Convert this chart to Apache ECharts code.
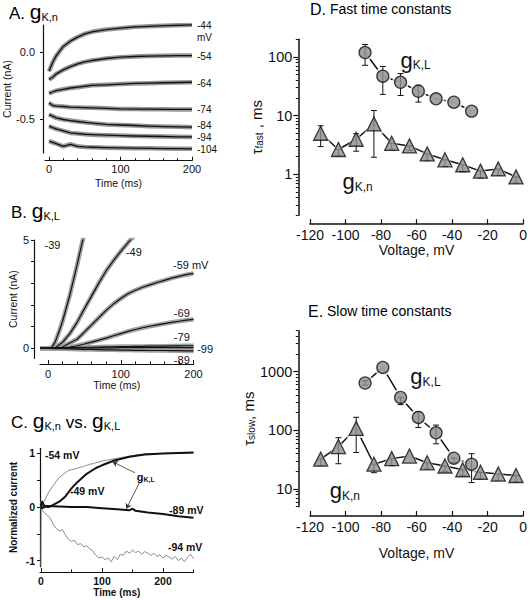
<!DOCTYPE html>
<html><head><meta charset="utf-8">
<script src="https://cdn.jsdelivr.net/npm/echarts/dist/echarts.min.js"></script>
<style>html,body{margin:0;padding:0;background:#fff}#c{width:530px;height:600px}</style>
</head><body><div id="c"></div>
<script>
const FF = '"Liberation Sans", Arial, Helvetica, sans-serif';
const INK = '#111';

// ---------- Panel A: gK,n currents ----------
const tA = [0,5,10,20,30,40,50,60,80,100,120,140,160,180,200];
const A_m44  = [-0.145,-0.08,-0.03,0.04,0.08,0.11,0.134,0.149,0.166,0.176,0.186,0.19,0.195,0.198,0.202];
const A_m54  = [-0.207,-0.19,-0.165,-0.135,-0.11,-0.09,-0.075,-0.065,-0.05,-0.04,-0.035,-0.032,-0.03,-0.028,-0.028];
const A_m64  = [-0.31,-0.30,-0.29,-0.28,-0.27,-0.264,-0.257,-0.25,-0.246,-0.241,-0.236,-0.234,-0.231,-0.229,-0.227];
const A_m74  = [-0.38,-0.40,-0.405,-0.408,-0.413,-0.415,-0.417,-0.418,-0.422,-0.426,-0.427,-0.428,-0.429,-0.43,-0.43];
const A_m84  = [-0.468,-0.48,-0.493,-0.505,-0.513,-0.52,-0.526,-0.532,-0.542,-0.546,-0.55,-0.555,-0.558,-0.56,-0.562];
const A_m94  = [-0.555,-0.565,-0.575,-0.59,-0.605,-0.61,-0.615,-0.618,-0.622,-0.625,-0.628,-0.63,-0.632,-0.634,-0.635];
const A_m104 = [-0.667,-0.675,-0.685,-0.705,-0.69,-0.705,-0.71,-0.712,-0.715,-0.717,-0.719,-0.72,-0.722,-0.723,-0.724];
const A_traces = [A_m44,A_m54,A_m64,A_m74,A_m84,A_m94,A_m104];
const A_labelText = ['-44','mV','-54','-64','-74','-84','-94','-104'];
const A_labelPos = [[207,0.2],[207,0.11],[207,-0.037],[207,-0.235],[207,-0.434],[207,-0.553],[207,-0.638],[207,-0.728]];
const A_xTicks = [0,100,200];
const A_xMinor = [20,40,60,80,120,140,160,180];
const A_yTicks = [-0.5,0];

// ---------- Panel B: gK,L currents ----------
const tB39 = [-11,0,5,10,15,20,25,30,35,40,45,50];
const vB39 = [0,0,0.03,0.3,0.75,1.25,1.85,2.46,3.15,3.85,4.6,5.3];
const tB49 = [-11,0,5,10,15,20,30,40,50,60,70,80,90,100,110,120];
const vB49 = [0,0,0,0.03,0.15,0.28,0.68,1.2,1.82,2.42,3.02,3.58,4.05,4.48,4.88,5.25];
const tB = [-11,0,10,20,30,40,50,60,70,80,90,100,110,120,130,140,150,160,170,180,190,200];
const vB59 = [0,0,0.01,0.06,0.25,0.42,0.75,1.08,1.42,1.75,2.05,2.3,2.52,2.68,2.82,2.93,3.04,3.14,3.24,3.32,3.4,3.46];
const vB69 = [0,0,0,0.02,0.06,0.12,0.2,0.29,0.38,0.47,0.58,0.68,0.78,0.87,0.95,1.02,1.08,1.14,1.2,1.25,1.3,1.34];
const vB79 = [0,0,0.01,0.02,0.03,0.04,0.05,0.05,0.06,0.07,0.07,0.08,0.08,0.09,0.09,0.1,0.1,0.1,0.11,0.11,0.12,0.12];
const vB89 = [0,0,-0.01,-0.02,-0.03,-0.04,-0.05,-0.05,-0.06,-0.07,-0.07,-0.08,-0.08,-0.09,-0.09,-0.1,-0.1,-0.1,-0.11,-0.11,-0.12,-0.12];
const vB99 = [0,0,0,0.01,0.01,0.01,0.02,0.02,0.02,0.02,0.02,0.03,0.03,0.03,0.03,0.03,0.03,0.03,0.03,0.03,0.03,0.03];
const B_labelText = ['-39','-49','-59 mV','-69','-79','-99','-89'];
const B_labelPos = [[6.2,4.77],[118,4.44],[171.8,3.84],[173,1.63],[173,0.52],[205,-0.03],[173,-0.52]];
const B_labelAlign = ['c','c','l','l','l','l','l'];
const B_xTicks = [0,100,200];
const B_xMinor = [20,40,60,80,120,140,160,180];
const B_yTicks = [0,1,2,3,4,5];
const B_yLabels = [0,5];

// ---------- Panel C: normalized ----------
const tC54 = [0,0.5,3,5,10,15,20,25,30,35,40,45,50,55,60,65,70,75,80,85,90,95,100,105,110,115,120,130,140,150,160,170,180,190,200,210,220,230,240,250];
const vC54 = [0,0.12,0.05,0.1,0.22,0.32,0.4,0.48,0.55,0.6,0.64,0.68,0.7,0.71,0.73,0.74,0.76,0.78,0.8,0.81,0.83,0.84,0.86,0.87,0.88,0.89,0.9,0.92,0.94,0.96,0.98,0.99,1.0,1.0,1.0,1.01,1.0,1.01,1.0,1.01];
const tC49 = [0,2,5,12,20,30,40,50,60,75,90,100,120,145,170,200,250];
const vC49 = [0.02,0.1,0.03,0,0.04,0.1,0.2,0.35,0.47,0.62,0.73,0.78,0.87,0.94,0.98,1.0,1.02];
const tC89 = [0,2,10,30,50,75,100,125,145,150,155,175,200,225,250];
const vC89 = [0.05,-0.02,0.02,0.01,0,0,-0.02,-0.04,-0.06,-0.03,-0.07,-0.1,-0.13,-0.17,-0.2];
const tC94 = [0,0.5,2,5,10,15,20,25,30,35,40,45,50,55,60,65,70,75,80,85,90,95,100,105,110,115,120,125,130,135,140,145,150,155,160,165,170,175,180,185,190,195,200,205,210,215,220,225,230,235,240,245,250];
const vC94 = [-1.1,0.1,-0.05,-0.1,-0.15,-0.2,-0.32,-0.4,-0.45,-0.42,-0.52,-0.6,-0.64,-0.62,-0.7,-0.68,-0.74,-0.72,-0.78,-0.82,-0.9,-0.95,-0.93,-0.98,-0.95,-1.02,-0.92,-0.98,-0.88,-0.9,-0.82,-0.86,-0.8,-0.85,-0.82,-0.88,-0.83,-0.86,-0.9,-0.86,-0.92,-0.89,-0.95,-0.9,-0.93,-0.97,-0.92,-1.0,-0.95,-1.02,-0.94,-0.88,-0.96];
const C_labelText = ['-54 mV','-49 mV','-89 mV','-94 mV','{g|g}{s|K,L}'];
const C_labelPos = [[6.6,0.98],[47.5,0.305],[210,-0.05],[208,-0.74],[157,0.565]];
const C_arrowFrom = [[154,0.64],[162,0.47]];
const C_arrowTo = [[117.5,0.845],[140,-0.03]];
const C_xTicks = [0,100,200];
const C_xMinor = [50,150,250];
const C_yTicks = [-1,-0.5,0,0.5,1];
const C_yLabels = [-1,0,1];

// ---------- Panel D: fast time constants ----------
const vL = [-89,-79,-69,-59,-49,-39,-29];
const vN = [-114,-104,-94,-84,-74,-64,-54,-44,-34,-24,-14,-4];
const fastL    = [119,47,37,26,19.3,16.9,11.9];
const fastL_lo = [72,23,22,17,19.3,16.9,11.9];
const fastL_hi = [163,69,52,33,19.3,16.9,11.9];
const fastN    = [5.0,2.64,3.95,7.2,3.37,3.04,2.22,1.76,1.45,1.13,1.23,0.9];
const fastN_lo = [2.96,2.06,2.47,1.95,2.6,2.55,1.7,1.35,1.1,0.86,0.95,0.71];
const fastN_hi = [6.7,2.64,4.9,12.2,3.37,3.04,2.22,1.76,1.45,1.13,1.23,0.9];
const D_labelText = ['{g|g}{s|K,L}','{g|g}{s|K,n}'];
const D_labelPos = [[-69.1,91],[-101.7,0.78]];
const D_yMajor = [1,10,100];
const D_yMinor = [0.2,0.3,0.4,0.5,0.6,0.7,0.8,0.9,2,3,4,5,6,7,8,9,20,30,40,50,60,70,80,90,200];

// ---------- Panel E: slow time constants ----------
const slowL    = [642,1183,365,166,91,33.6,26.5];
const slowL_lo = [590,1183,275,112,59,28,12.9];
const slowL_hi = [700,1183,365,208,123,33.6,40];
const slowN    = [32.4,53,108,26.5,33,36.5,28,24.7,21.3,19.3,18,17];
const slowN_lo = [25,27,42,19,25,36.5,22,20,17,15,14,13];
const slowN_hi = [32.4,75,167,26.5,33,36.5,28,24.7,21.3,19.3,18,17];
const E_labelText = ['{g|g}{s|K,L}','{g|g}{s|K,n}'];
const E_labelPos = [[-63.5,855],[-108.9,9.7]];
const E_yMajor = [10,100,1000];
const E_yMinor = [5,6,7,8,9,20,30,40,50,60,70,80,90,200,300,400,500,600,700,800,900,2000,3000,4000,5000];

// ---------- helpers ----------
const zip = (xs, ys) => xs.map((x,i)=>[x, ys[i]]);
function lineS(ax, xs, ys, color, width, z){
  return {type:'line', xAxisIndex:ax, yAxisIndex:ax, data:zip(xs,ys), showSymbol:false, symbol:'none',
    lineStyle:{color, width, join:'round'}, itemStyle:{color}, z:z||2, silent:true, clip:true};
}
const richG = (g, s, w) => ({
  g:{fontSize:g, fontFamily:FF, color:INK, verticalAlign:'bottom', lineHeight:Math.round(g*1.1), fontWeight:w||'normal'},
  s:{fontSize:s, fontFamily:FF, color:INK, verticalAlign:'bottom', lineHeight:s, fontWeight:w||'normal'}
});
function labelS(xi, yi, pts, texts, align, size, weight, rich){
  return {type:'scatter', xAxisIndex:xi, yAxisIndex:yi, symbolSize:0.01, itemStyle:{color:INK}, silent:true, z:20, clip:false,
    data: pts.map((p,i)=>({value:p, label:{formatter:texts[i], position:(Array.isArray(align)?align[i]:align)==='l'?'right':'inside'}})),
    label:{show:true, distance:0, color:INK, opacity:1, fontSize:size, lineHeight:size, fontFamily:FF, fontWeight:weight||'normal', rich:rich||{}}};
}
function errS(ax, xs, lo, hi){
  const d = xs.map((x,i)=>[x, lo[i], hi[i]]).filter(r=>r[1]!==r[2]);
  return {type:'custom', xAxisIndex:ax, yAxisIndex:ax, z:5, silent:true, data:d,
    renderItem:(p, api)=>{
      const a = api.coord([api.value(0), api.value(1)]);
      const b = api.coord([api.value(0), api.value(2)]);
      const st = {stroke:INK, lineWidth:1};
      return {type:'group', children:[
        {type:'line', shape:{x1:a[0],y1:a[1],x2:b[0],y2:b[1]}, style:st},
        {type:'line', shape:{x1:a[0]-3,y1:a[1],x2:a[0]+3,y2:a[1]}, style:st},
        {type:'line', shape:{x1:b[0]-3,y1:b[1],x2:b[0]+3,y2:b[1]}, style:st}
      ]};
    }};
}
function markerS(ax, xs, ys, symbol, size){
  return [
    {type:'line', xAxisIndex:ax, yAxisIndex:ax, data:zip(xs,ys), showSymbol:false, symbol:'none', lineStyle:{color:INK, width:1.5}, z:2, silent:true},
    {type:'scatter', xAxisIndex:ax, yAxisIndex:ax, data:zip(xs,ys), symbol, symbolSize:size+5, itemStyle:{color:'#fff'}, z:4, silent:true},
    {type:'scatter', xAxisIndex:ax, yAxisIndex:ax, data:zip(xs,ys), symbol, symbolSize:size, itemStyle:{color:'#8d8d8d', borderColor:INK, borderWidth:1.3}, z:6, silent:true}
  ];
}
const axLine = (w) => ({show:true, onZero:false, lineStyle:{color:INK, width:w||1.2}});
const noLine = {show:false, onZero:false};
function linX(grid, min, max, offset, ticks, nameGap, size, weight, margin){
  return {type:'value', gridIndex:grid, min, max, offset, position:'bottom', axisLine:axLine(), splitLine:{show:false},
    axisTick:{show:true, inside:true, length:4, customValues:ticks, lineStyle:{color:INK}},
    axisLabel:{customValues:ticks, fontSize:size, fontFamily:FF, color:INK, fontWeight:weight, margin},
    name:'Time (ms)', nameLocation:'middle', nameGap, nameTextStyle:{fontSize:size-0.5, fontFamily:FF, color:INK, fontWeight:weight}};
}
function minorX(grid, min, max, offset, vals, len){
  return {type:'value', gridIndex:grid, min, max, offset, position:'bottom', axisLine:noLine, splitLine:{show:false},
    axisLabel:{show:false}, axisTick:{show:true, inside:true, length:len, customValues:vals, lineStyle:{color:INK}}};
}
function linY(grid, min, max, offset, ticks, labels, fmt, name, nameGap, size, weight, margin){
  return {type:'value', gridIndex:grid, min, max, offset, position:'left', axisLine:axLine(), splitLine:{show:false},
    axisTick:{show:true, length:3, customValues:ticks, lineStyle:{color:INK}},
    axisLabel:{customValues:labels, formatter:fmt, fontSize:size, fontFamily:FF, color:INK, fontWeight:weight, margin},
    name, nameLocation:'middle', nameGap, nameTextStyle:{fontSize:size-0.5, fontFamily:FF, color:INK, fontWeight:weight}};
}
function logY(grid, min, max, major, name){
  return {type:'log', logBase:10, gridIndex:grid, min, max, offset:11.7, position:'left', axisLine:axLine(1.5), splitLine:{show:false},
    axisTick:{show:true, length:5, customValues:major, lineStyle:{color:INK, width:1.2}},
    axisLabel:{customValues:major, formatter:v=>String(Math.round(v)), fontSize:14.5, fontFamily:FF, color:INK, margin:6},
    name, nameLocation:'middle', nameGap:24,
    nameTextStyle:{fontSize:14, fontFamily:FF, color:INK, rich:{t:{fontSize:15, fontFamily:FF, color:INK}, s:{fontSize:10, fontFamily:FF, color:INK, verticalAlign:'bottom', lineHeight:8}}}};
}
function minorLogY(grid, min, max, vals){
  return {type:'log', logBase:10, gridIndex:grid, min, max, offset:11.7, position:'left', axisLine:noLine, splitLine:{show:false}, axisLabel:{show:false},
    axisTick:{show:true, length:2.5, customValues:vals, lineStyle:{color:INK}}};
}
function voltX(grid, offset, nameGap){
  return {type:'value', gridIndex:grid, min:-120, max:0, interval:20, offset, position:'bottom', axisLine:axLine(1.5), splitLine:{show:false},
    axisTick:{show:true, inside:true, length:5, lineStyle:{color:INK, width:1.2}},
    axisLabel:{fontSize:14, fontFamily:FF, color:INK, margin:4},
    name:'Voltage, mV', nameLocation:'middle', nameGap, nameTextStyle:{fontSize:14, fontFamily:FF, color:INK}};
}

// ---------- series ----------
const series = [];
A_traces.forEach(v=>{ series.push(lineS(0, tA, v, '#979797', 4.5, 2)); series.push(lineS(0, tA, v, INK, 1.3, 3)); });
series.push(labelS(0,0,A_labelPos,A_labelText,'l',10));

[[tB39,vB39],[tB49,vB49],[tB,vB59],[tB,vB69],[tB,vB79],[tB,vB89],[tB,vB99]].forEach(([t,v])=>{
  series.push(lineS(1, t, v, '#a3a3a3', 4.5, 2)); series.push(lineS(1, t, v, INK, 1.2, 3));
});
series.push(labelS(1,1,B_labelPos,B_labelText,B_labelAlign,11));

series.push(lineS(2, tC54, vC54, '#8a8a8a', 1, 2));
series.push(lineS(2, tC94, vC94, '#8a8a8a', 1, 2));
series.push(lineS(2, tC49, vC49, INK, 2, 3));
const s89 = lineS(2, tC89, vC89, INK, 2, 3);
s89.markLine = {silent:true, symbol:['none','arrow'], symbolSize:5, label:{show:false},
  lineStyle:{color:'#333', width:0.8, type:'solid'},
  data: C_arrowFrom.map((f,i)=>[{coord:f},{coord:C_arrowTo[i]}])};
series.push(s89);
series.push(labelS(2,2,C_labelPos,C_labelText,'l',10.5,'bold',richG(11,7,'bold')));

series.push(errS(3, vL, fastL_lo, fastL_hi));
series.push(errS(3, vN, fastN_lo, fastN_hi));
series.push(...markerS(3, vL, fastL, 'circle', 12));
series.push(...markerS(3, vN, fastN, 'triangle', 14));
series.push(labelS(3,3,D_labelPos,D_labelText,'l',20,'normal',richG(22,12)));

series.push(errS(4, vL, slowL_lo, slowL_hi));
series.push(errS(4, vN, slowN_lo, slowN_hi));
series.push(...markerS(4, vL, slowL, 'circle', 12));
series.push(...markerS(4, vN, slowN, 'triangle', 14));
series.push(labelS(4,4,E_labelPos,E_labelText,'l',20,'normal',richG(22,12)));

const titleRich = {
  a:{fontSize:17, fontFamily:FF, color:INK, verticalAlign:'bottom', lineHeight:24},
  g:{fontSize:21, fontFamily:FF, color:INK, verticalAlign:'bottom', lineHeight:24},
  s:{fontSize:11, fontFamily:FF, color:INK, verticalAlign:'bottom', lineHeight:11}
};
const titleRich2 = {
  a:{fontSize:16, fontFamily:FF, color:INK},
  b:{fontSize:14, fontFamily:FF, color:INK}
};

const option = {
  animation:false,
  backgroundColor:'#fff',
  grid:[
    {left:45, top:25, width:147, height:128},
    {left:40, top:240, width:153.5, height:118.3},
    {left:40, top:448.3, width:153.5, height:118.4},
    {left:310, top:39.3, width:216, height:175.9},
    {left:310, top:330.7, width:216, height:176}
  ],
  xAxis:[
    linX(0, -5.6, 200, 7.7, A_xTicks, 17, 11, 'normal', 3),
    linX(1, -11, 200, 5.7, B_xTicks, 15, 11, 'normal', 4),
    linX(2, -1.6, 250, 5.3, C_xTicks, 15, 10.5, 'bold', 3),
    voltX(3, 9, 18),
    voltX(4, 9.3, 30),
    minorX(0, -5.6, 200, 7.7, A_xMinor, 2.5),
    minorX(1, -11, 200, 5.7, B_xMinor, 2.5),
    minorX(2, -1.6, 250, 5.3, C_xMinor, 2.5)
  ],
  yAxis:[
    linY(0, -0.755, 0.2, 2, A_yTicks, A_yTicks, v=>v.toFixed(1), 'Current (nA)', 25, 11, 'normal', 8),
    linY(1, -0.46, 5, 6, B_yTicks, B_yLabels, v=>String(v), 'Current (nA)', 15, 11, 'normal', 5),
    linY(2, -1.112, 1.097, 0, C_yTicks, C_yLabels, v=>String(v), 'Normalized current', 22, 10.5, 'bold', 5),
    logY(3, 0.2, 200, D_yMajor, '{t|τ}{s|fast}{t| , ms}'),
    logY(4, 5, 5000, E_yMajor, '{t|τ}{s|slow}{t|, ms}'),
    minorLogY(3, 0.2, 200, D_yMinor),
    minorLogY(4, 5, 5000, E_yMinor)
  ],
  graphic:[
    {type:'text', left:9, top:1, silent:true, style:{text:'{a|A. }{g|g}{s|K,n}', rich:titleRich}},
    {type:'text', left:11, top:200, silent:true, style:{text:'{a|B. }{g|g}{s|K,L}', rich:titleRich}},
    {type:'text', left:11, top:410, silent:true, style:{text:'{a|C. }{g|g}{s|K,n}{a| vs. }{g|g}{s|K,L}', rich:titleRich}},
    {type:'text', left:310, top:1, silent:true, style:{text:'{a|D.}{b| Fast time constants}', rich:titleRich2}},
    {type:'text', left:308, top:303, silent:true, style:{text:'{a|E.}{b| Slow time constants}', rich:titleRich2}}
  ],
  series
};
const chart = echarts.init(document.getElementById('c'), null, {renderer:'svg'});
chart.setOption(option);
</script></body></html>
